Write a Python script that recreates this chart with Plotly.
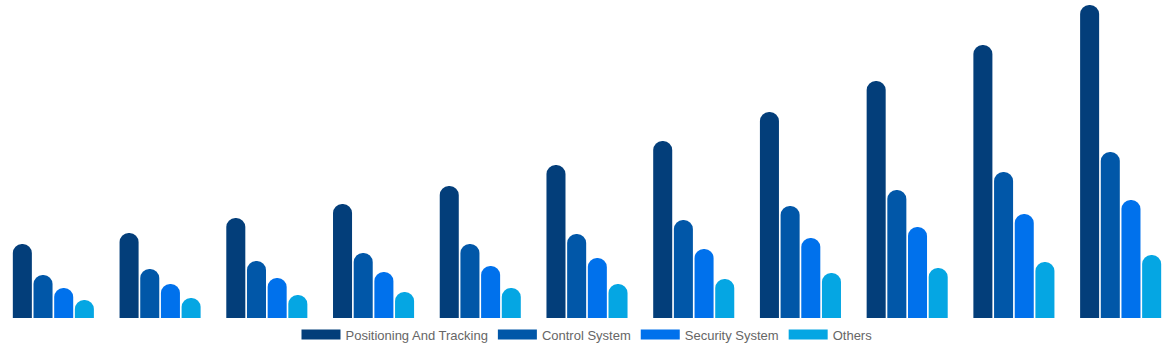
import plotly.graph_objects as go

years = [str(y) for y in range(2020, 2031)]
positioning = [7.4, 8.5, 10.0, 11.4, 13.2, 15.3, 17.7, 20.6, 23.7, 27.3, 31.3]
control = [4.3, 4.9, 5.7, 6.5, 7.4, 8.4, 9.8, 11.2, 12.8, 14.6, 16.6]
security = [3.0, 3.4, 4.0, 4.6, 5.2, 6.0, 6.9, 8.0, 9.1, 10.4, 11.8]
others = [1.8, 2.0, 2.3, 2.6, 3.0, 3.4, 3.9, 4.5, 5.0, 5.6, 6.3]

names = ["Positioning And Tracking", "Control System", "Security System", "Others"]
colors = ["#033E7A", "#0157A8", "#0071EC", "#05A6E3"]
series = [positioning, control, security, others]

fig = go.Figure()
for name, vals, col in zip(names, series, colors):
    fig.add_trace(go.Bar(x=years, y=vals, name=name, marker=dict(color=col, line=dict(width=0)),
                         showlegend=False, hoverinfo="x+y+name"))
for name, col in zip(names, colors):
    fig.add_trace(go.Scatter(x=[None], y=[None], mode="lines", name=name,
                             line=dict(color=col, width=12)))

fig.update_layout(
    width=1174, height=350,
    margin=dict(l=0, r=0, t=0, b=32),
    paper_bgcolor="white", plot_bgcolor="white",
    barmode="group", bargap=0.225, bargroupgap=0.08,
    barcornerradius="50%",
    xaxis=dict(visible=False),
    yaxis=dict(visible=False, range=[0, 31.8]),
    legend=dict(orientation="h", x=0.5, xanchor="center", y=-0.005, yanchor="top",
                font=dict(family="Arial, Liberation Sans", size=13, color="#666666"),
                itemwidth=39, bgcolor="rgba(0,0,0,0)"),
    showlegend=True,
)
fig.write_html("out.html")
